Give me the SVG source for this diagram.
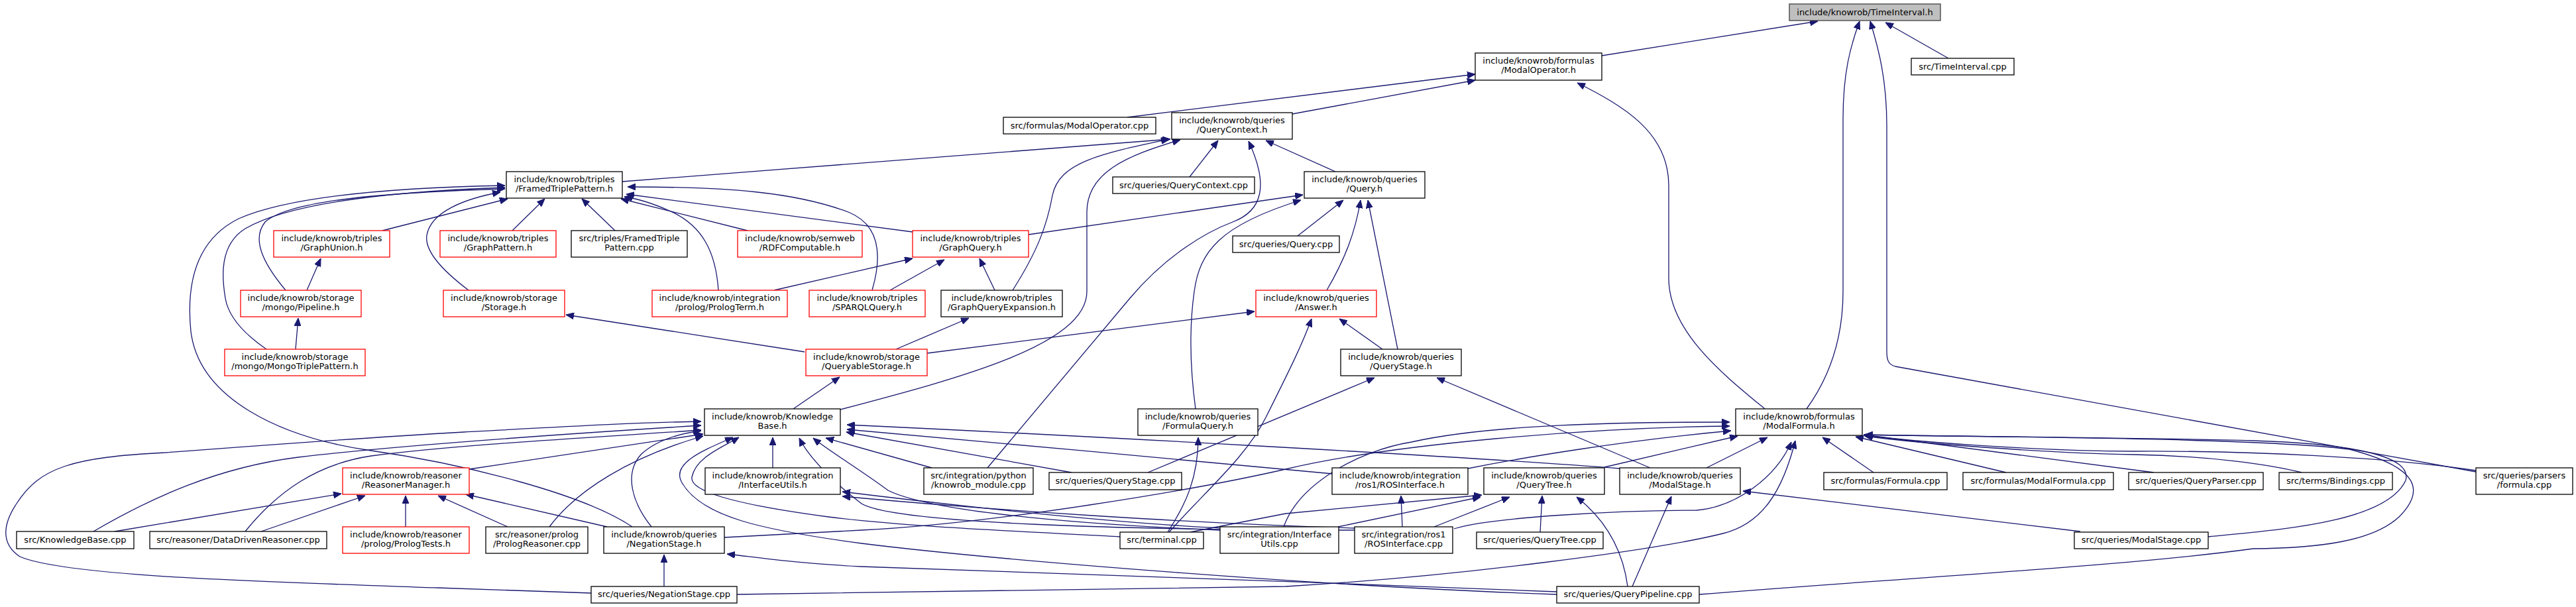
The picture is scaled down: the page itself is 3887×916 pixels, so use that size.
<svg xmlns="http://www.w3.org/2000/svg" width="3887" height="916" viewBox="0 0 3887 916">
<defs>
<marker id="a" viewBox="0 0 12 10" refX="12" refY="5" markerWidth="12" markerHeight="10" markerUnits="userSpaceOnUse" orient="auto">
<path d="M0,0 L12,5 L0,10 z" fill="#191970" stroke="#191970" stroke-width="1"/>
</marker>
</defs>
<style>
.n rect{fill:#ffffff;stroke:#000000;stroke-width:1.3}
.r rect{stroke:#ff0000}
.root rect{fill:#bfbfbf;stroke:#404040}
text{font-family:"DejaVu Sans","Liberation Sans",sans-serif;font-size:13px;text-anchor:middle;fill:#000000}
.e path{fill:none;stroke:#191970;stroke-width:1.3;marker-end:url(#a)}
</style>
<rect width="3887" height="916" fill="#ffffff"/>
<g id="edges" class="e">
<path d="M2417,84 L2743,32"/>
<path d="M2726,617 C2760,570 2781,510 2781,440 L2781,180 C2781,110 2792,70 2806,32"/>
<path d="M3736,712 L2860,553 C2850,550 2847,545 2847,530 L2847,190 C2847,120 2835,75 2822,32"/>
<path d="M2940,88 L2845,34"/>
<path d="M1701,177 L2226,112"/>
<path d="M1950,172 L2226,121"/>
<path d="M2663,617 C2600,565 2518,500 2518,420 L2518,280 C2518,200 2450,160 2380,125"/>
<path d="M939,274 L1766,210"/>
<path d="M1528,438 C1565,380 1580,340 1588,295 C1598,245 1660,232 1764,210"/>
<path d="M1268,618 C1450,570 1640,520 1640,440 L1640,320 C1640,260 1700,235 1781,211"/>
<path d="M1795,267 L1838,212"/>
<path d="M2015,259 L1910,212"/>
<path d="M1490,706 L1705,450 C1760,385 1820,350 1860,335 C1905,318 1915,280 1884,213"/>
<path d="M1804,617 C1795,550 1795,490 1802,440 C1810,380 1840,340 1963,302"/>
<path d="M1552,354 L1966,294"/>
<path d="M1958,356 L2027,302"/>
<path d="M2002,438 C2030,390 2045,350 2053,302"/>
<path d="M2109,527 L2064,302"/>
<path d="M577,348 L766,300"/>
<path d="M773,348 L822,300"/>
<path d="M928,348 L878,300"/>
<path d="M1128,348 L937,300"/>
<path d="M1377,350 L945,293"/>
<path d="M1316,438 C1330,390 1330,340 1280,320 C1200,290 1100,282 947,282"/>
<path d="M1084,438 C1080,380 1060,340 1010,318 C985,307 965,300 942,297"/>
<path d="M707,438 C670,410 640,380 644,355 C650,320 700,300 755,290"/>
<path d="M431,438 C395,395 380,360 400,335 C440,300 600,290 762,285"/>
<path d="M402,527 C370,505 345,480 340,450 C335,420 330,370 370,345 C430,310 560,290 762,283"/>
<path d="M954,795 C880,745 700,700 560,680 C420,660 300,600 288,500 C280,420 300,360 360,330 C440,295 600,283 762,280"/>
<path d="M463,438 L484,390"/>
<path d="M446,527 L450,480"/>
<path d="M1168,438 L1377,390"/>
<path d="M1343,438 L1425,392"/>
<path d="M1501,438 L1478,390"/>
<path d="M1214,531 L854,475"/>
<path d="M1352,527 L1462,480"/>
<path d="M1399,533 L1893,470"/>
<path d="M1197,617 L1267,569"/>
<path d="M2086,527 L2021,481"/>
<path d="M1764,803 C1820,740 1880,690 1910,630 C1945,560 1965,520 1979,481"/>
<path d="M1732,713 L2074,570"/>
<path d="M2490,706 L2168,570"/>
<path d="M2463,885 L2522,749"/>
<path d="M3139,802 L2630,741"/>
<path d="M2575,706 L2667,660"/>
<path d="M2827,713 L2750,660"/>
<path d="M3027,713 L2800,659"/>
<path d="M3250,713 L2812,656"/>
<path d="M3473,713 C3420,700 3330,688 3220,686 C3100,684 2900,670 2814,658"/>
<path d="M3736,710 C3600,690 3400,680 3220,681 C3050,680 2880,665 2812,657"/>
<path d="M3332,810 C3430,800 3600,790 3630,725 C3640,690 3560,670 3400,665 C3200,660 2900,658 2814,656"/>
<path d="M2564,897 C2900,870 3200,855 3400,828 C3500,827 3580,817 3620,780 C3660,740 3650,705 3545,678 C3400,660 3000,660 2814,656"/>
<path d="M1937,795 C1960,730 2050,680 2130,667 C2250,640 2450,637 2610,637"/>
<path d="M1093,811 L1300,800 C1500,790 1800,740 1940,708 C2100,670 2400,645 2610,643"/>
<path d="M2215,707 C2300,690 2450,665 2612,650"/>
<path d="M2421,705 L2622,658"/>
<path d="M2194,798 C2250,780 2450,770 2560,770 C2620,765 2680,720 2703,667"/>
<path d="M1112,897 L1940,885 C2200,870 2500,830 2600,805 C2660,790 2690,740 2709,665"/>
<path d="M2349,893 C2000,880 1500,860 1300,855 C1200,850 1150,842 1097,836"/>
<path d="M2349,897 C2000,885 1500,845 1300,820 C1150,800 1060,780 1030,730 C1010,700 1060,680 1106,660"/>
<path d="M1690,810 C1500,800 1350,793 1250,780 C1100,760 1040,740 1044,720 C1050,690 1090,675 1115,660"/>
<path d="M708,708 L1061,655"/>
<path d="M141,802 C230,750 330,705 450,690 C600,672 850,655 1058,642"/>
<path d="M370,802 C420,740 480,700 560,688 C700,670 900,660 1058,649"/>
<path d="M892,895 L660,887 C400,878 100,870 30,840 C0,820 5,790 25,760 C60,705 110,690 250,683 C420,670 560,660 700,652 C850,644 950,638 1058,636"/>
<path d="M829,795 C870,740 950,690 1061,658"/>
<path d="M983,795 C955,760 940,715 968,685 C990,665 1020,655 1058,650"/>
<path d="M1166,706 L1166,660"/>
<path d="M1406,706 L1246,661"/>
<path d="M1617,713 L1277,652"/>
<path d="M2444,707 C2200,688 1600,656 1278,641"/>
<path d="M2011,715 C1800,695 1500,668 1278,648"/>
<path d="M1841,800 C1600,790 1400,770 1340,740 C1300,710 1250,680 1227,661"/>
<path d="M2044,800 C1700,800 1350,790 1300,760 C1260,730 1220,690 1206,661"/>
<path d="M916,795 L703,746"/>
<path d="M766,795 L661,748"/>
<path d="M612,795 L612,748"/>
<path d="M173,802 L515,745"/>
<path d="M394,802 L551,748"/>
<path d="M1002,885 L1002,837"/>
<path d="M1762,803 C1790,760 1808,720 1808,660"/>
<path d="M2116,795 L2114,748"/>
<path d="M1845,797 C1700,790 1500,770 1271,742"/>
<path d="M2044,797 C1800,790 1500,770 1271,749"/>
<path d="M2019,795 L2234,750"/>
<path d="M2164,795 L2278,750"/>
<path d="M2324,803 L2327,748"/>
<path d="M2456,885 C2450,840 2430,790 2379,750"/>
<path d="M1796,803 L1940,775 L2236,747"/>
</g>
<g id="n_ti" class="n root"><rect x="2700" y="6" width="228" height="25"/><text x="2814" y="23">include/knowrob/TimeInterval.h</text></g>
<g id="n_mop" class="n"><rect x="2226" y="80" width="191" height="41"/><text x="2321.5" y="96">include/knowrob/formulas</text><text x="2321.5" y="110">/ModalOperator.h</text></g>
<g id="n_ticpp" class="n"><rect x="2884" y="88" width="155" height="25"/><text x="2961.5" y="104.5">src/TimeInterval.cpp</text></g>
<g id="n_mocpp" class="n"><rect x="1514" y="177" width="230" height="25"/><text x="1629" y="193.5">src/formulas/ModalOperator.cpp</text></g>
<g id="n_qc" class="n"><rect x="1768" y="170" width="182" height="40"/><text x="1859" y="186">include/knowrob/queries</text><text x="1859" y="200">/QueryContext.h</text></g>
<g id="n_ftp" class="n"><rect x="764" y="259" width="175" height="40"/><text x="851.5" y="275">include/knowrob/triples</text><text x="851.5" y="289">/FramedTriplePattern.h</text></g>
<g id="n_qccpp" class="n"><rect x="1679" y="267" width="214" height="25"/><text x="1786" y="283.5">src/queries/QueryContext.cpp</text></g>
<g id="n_q" class="n"><rect x="1968" y="259" width="182" height="40"/><text x="2059" y="275">include/knowrob/queries</text><text x="2059" y="289">/Query.h</text></g>
<g id="n_gu" class="n r"><rect x="413" y="348" width="175" height="40"/><text x="500.5" y="364">include/knowrob/triples</text><text x="500.5" y="378">/GraphUnion.h</text></g>
<g id="n_gp" class="n r"><rect x="664" y="348" width="175" height="40"/><text x="751.5" y="364">include/knowrob/triples</text><text x="751.5" y="378">/GraphPattern.h</text></g>
<g id="n_ftpcpp" class="n"><rect x="862" y="348" width="175" height="40"/><text x="949.5" y="364">src/triples/FramedTriple</text><text x="949.5" y="378">Pattern.cpp</text></g>
<g id="n_rdf" class="n r"><rect x="1113" y="348" width="188" height="40"/><text x="1207" y="364">include/knowrob/semweb</text><text x="1207" y="378">/RDFComputable.h</text></g>
<g id="n_gq" class="n r"><rect x="1377" y="348" width="175" height="40"/><text x="1464.5" y="364">include/knowrob/triples</text><text x="1464.5" y="378">/GraphQuery.h</text></g>
<g id="n_qcpp" class="n"><rect x="1860" y="356" width="161" height="25"/><text x="1940.5" y="372.5">src/queries/Query.cpp</text></g>
<g id="n_pipe" class="n r"><rect x="363" y="438" width="182" height="40"/><text x="454" y="454">include/knowrob/storage</text><text x="454" y="468">/mongo/Pipeline.h</text></g>
<g id="n_stor" class="n r"><rect x="669" y="438" width="183" height="40"/><text x="760.5" y="454">include/knowrob/storage</text><text x="760.5" y="468">/Storage.h</text></g>
<g id="n_pt" class="n r"><rect x="984" y="438" width="204" height="40"/><text x="1086" y="454">include/knowrob/integration</text><text x="1086" y="468">/prolog/PrologTerm.h</text></g>
<g id="n_sparql" class="n r"><rect x="1221" y="438" width="175" height="40"/><text x="1308.5" y="454">include/knowrob/triples</text><text x="1308.5" y="468">/SPARQLQuery.h</text></g>
<g id="n_gqe" class="n"><rect x="1420" y="438" width="183" height="40"/><text x="1511.5" y="454">include/knowrob/triples</text><text x="1511.5" y="468">/GraphQueryExpansion.h</text></g>
<g id="n_ans" class="n r"><rect x="1895" y="438" width="182" height="40"/><text x="1986" y="454">include/knowrob/queries</text><text x="1986" y="468">/Answer.h</text></g>
<g id="n_mtp" class="n r"><rect x="339" y="527" width="212" height="40"/><text x="445" y="543">include/knowrob/storage</text><text x="445" y="557">/mongo/MongoTriplePattern.h</text></g>
<g id="n_qs" class="n r"><rect x="1216" y="527" width="183" height="40"/><text x="1307.5" y="543">include/knowrob/storage</text><text x="1307.5" y="557">/QueryableStorage.h</text></g>
<g id="n_qst" class="n"><rect x="2023" y="527" width="182" height="40"/><text x="2114" y="543">include/knowrob/queries</text><text x="2114" y="557">/QueryStage.h</text></g>
<g id="n_kb" class="n"><rect x="1063" y="617" width="205" height="40"/><text x="1165.5" y="633">include/knowrob/Knowledge</text><text x="1165.5" y="647">Base.h</text></g>
<g id="n_fq" class="n"><rect x="1717" y="617" width="181" height="40"/><text x="1807.5" y="633">include/knowrob/queries</text><text x="1807.5" y="647">/FormulaQuery.h</text></g>
<g id="n_mf" class="n"><rect x="2619" y="617" width="191" height="40"/><text x="2714.5" y="633">include/knowrob/formulas</text><text x="2714.5" y="647">/ModalFormula.h</text></g>
<g id="n_rm" class="n r"><rect x="517" y="706" width="191" height="40"/><text x="612.5" y="722">include/knowrob/reasoner</text><text x="612.5" y="736">/ReasonerManager.h</text></g>
<g id="n_iu" class="n"><rect x="1064" y="706" width="204" height="40"/><text x="1166" y="722">include/knowrob/integration</text><text x="1166" y="736">/InterfaceUtils.h</text></g>
<g id="n_py" class="n"><rect x="1394" y="706" width="165" height="40"/><text x="1476.5" y="722">src/integration/python</text><text x="1476.5" y="736">/knowrob_module.cpp</text></g>
<g id="n_qstcpp" class="n"><rect x="1583" y="713" width="200" height="26"/><text x="1683" y="729.5">src/queries/QueryStage.cpp</text></g>
<g id="n_ros" class="n"><rect x="2010" y="706" width="205" height="40"/><text x="2112.5" y="722">include/knowrob/integration</text><text x="2112.5" y="736">/ros1/ROSInterface.h</text></g>
<g id="n_qt" class="n"><rect x="2239" y="706" width="182" height="40"/><text x="2330" y="722">include/knowrob/queries</text><text x="2330" y="736">/QueryTree.h</text></g>
<g id="n_ms" class="n"><rect x="2444" y="706" width="182" height="40"/><text x="2535" y="722">include/knowrob/queries</text><text x="2535" y="736">/ModalStage.h</text></g>
<g id="n_fcpp" class="n"><rect x="2752" y="713" width="186" height="26"/><text x="2845" y="729.5">src/formulas/Formula.cpp</text></g>
<g id="n_mfcpp" class="n"><rect x="2962" y="713" width="227" height="26"/><text x="3075.5" y="729.5">src/formulas/ModalFormula.cpp</text></g>
<g id="n_qp" class="n"><rect x="3212" y="713" width="203" height="26"/><text x="3313.5" y="729.5">src/queries/QueryParser.cpp</text></g>
<g id="n_bind" class="n"><rect x="3439" y="713" width="171" height="26"/><text x="3524.5" y="729.5">src/terms/Bindings.cpp</text></g>
<g id="n_fpcpp" class="n"><rect x="3736" y="706" width="146" height="40"/><text x="3809" y="722">src/queries/parsers</text><text x="3809" y="736">/formula.cpp</text></g>
<g id="n_kbcpp" class="n"><rect x="25" y="802" width="177" height="26"/><text x="113.5" y="818.5">src/KnowledgeBase.cpp</text></g>
<g id="n_ddr" class="n"><rect x="226" y="802" width="267" height="26"/><text x="359.5" y="818.5">src/reasoner/DataDrivenReasoner.cpp</text></g>
<g id="n_ptest" class="n r"><rect x="517" y="795" width="191" height="40"/><text x="612.5" y="811">include/knowrob/reasoner</text><text x="612.5" y="825">/prolog/PrologTests.h</text></g>
<g id="n_pr" class="n"><rect x="733" y="795" width="154" height="40"/><text x="810" y="811">src/reasoner/prolog</text><text x="810" y="825">/PrologReasoner.cpp</text></g>
<g id="n_ns" class="n"><rect x="911" y="795" width="182" height="40"/><text x="1002" y="811">include/knowrob/queries</text><text x="1002" y="825">/NegationStage.h</text></g>
<g id="n_term" class="n"><rect x="1690" y="803" width="126" height="25"/><text x="1753" y="819">src/terminal.cpp</text></g>
<g id="n_iucpp" class="n"><rect x="1841" y="795" width="179" height="40"/><text x="1930.5" y="811">src/integration/Interface</text><text x="1930.5" y="825">Utils.cpp</text></g>
<g id="n_roscpp" class="n"><rect x="2044" y="795" width="148" height="40"/><text x="2118" y="811">src/integration/ros1</text><text x="2118" y="825">/ROSInterface.cpp</text></g>
<g id="n_qtcpp" class="n"><rect x="2228" y="803" width="191" height="25"/><text x="2323.5" y="819">src/queries/QueryTree.cpp</text></g>
<g id="n_mscpp" class="n"><rect x="3130" y="803" width="202" height="25"/><text x="3231" y="819">src/queries/ModalStage.cpp</text></g>
<g id="n_nscpp" class="n"><rect x="892" y="885" width="220" height="25"/><text x="1002" y="901">src/queries/NegationStage.cpp</text></g>
<g id="n_qpcpp" class="n"><rect x="2349" y="885" width="215" height="25"/><text x="2456.5" y="901">src/queries/QueryPipeline.cpp</text></g>
</svg>
